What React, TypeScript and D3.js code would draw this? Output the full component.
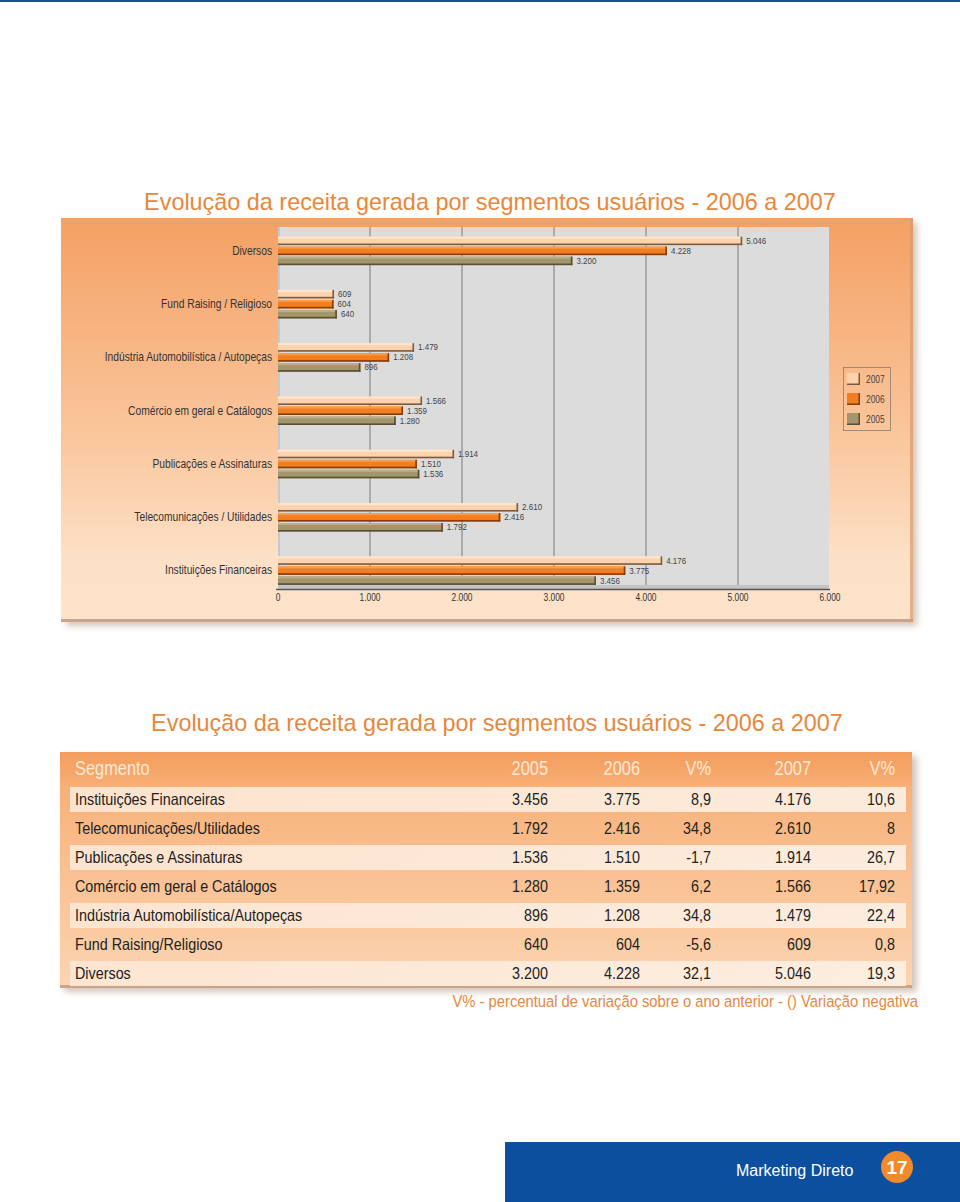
import React from "react";
import * as d3 from "d3";

const categories = [
  "Diversos",
  "Fund Raising / Religioso",
  "Indústria Automobilística / Autopeças",
  "Comércio em geral e Catálogos",
  "Publicações e Assinaturas",
  "Telecomunicações / Utilidades",
  "Instituições Financeiras",
];
const values2005 = [3200, 640, 896, 1280, 1536, 1792, 3456];
const values2006 = [4228, 604, 1208, 1359, 1510, 2416, 3775];
const values2007 = [5046, 609, 1479, 1566, 1914, 2610, 4176];
const axisTicks = [0, 1000, 2000, 3000, 4000, 5000, 6000];
const legendYears = ["2007", "2006", "2005"];

const tableSegments = [
  "Instituições Financeiras",
  "Telecomunicações/Utilidades",
  "Publicações e Assinaturas",
  "Comércio em geral e Catálogos",
  "Indústria Automobilística/Autopeças",
  "Fund Raising/Religioso",
  "Diversos",
];
const table2005 = [3456, 1792, 1536, 1280, 896, 640, 3200];
const table2006 = [3775, 2416, 1510, 1359, 1208, 604, 4228];
const tableV2006 = ["8,9", "34,8", "-1,7", "6,2", "34,8", "-5,6", "32,1"];
const table2007 = [4176, 2610, 1914, 1566, 1479, 609, 5046];
const tableV2007 = ["10,6", "8", "26,7", "17,92", "22,4", "0,8", "19,3"];
const tableHeaders = ["2005", "2006", "V%", "2007", "V%"];

const title = "Evolução da receita gerada por segmentos usuários - 2006 a 2007";
const footnote = "V% - percentual de variação sobre o ano anterior - () Variação negativa";

const locale = d3.formatLocale({ decimal: ",", thousands: ".", grouping: [3], currency: ["", ""] });
const fmt = locale.format(",d");

const SANS = "'Liberation Sans', Arial, sans-serif";

const seriesStyle = [
  { key: "2007", values: values2007, fill: "#fcd3ad", top: "#fee7d1", dark: "#7a5a40", off: -14 },
  { key: "2006", values: values2006, fill: "#f07f22", top: "#f99c4e", dark: "#8a3c08", off: -4 },
  { key: "2005", values: values2005, fill: "#a3956c", top: "#bbae88", dark: "#5a4f30", off: 6 },
];

function NText(props: {
  x: number;
  y: number;
  size: number;
  fill: string;
  anchor?: string;
  sx?: number;
  children: React.ReactNode;
}) {
  const sx = props.sx ?? 0.84;
  return (
    <text
      transform={`translate(${props.x},${props.y}) scale(${sx},1)`}
      textAnchor={props.anchor ?? "start"}
      fontFamily={SANS}
      fontSize={props.size}
      fill={props.fill}
    >
      {props.children}
    </text>
  );
}

export default function App() {
  const x = d3.scaleLinear().domain([0, 6000]).range([278, 830]);
  const y = d3.scaleBand<string>().domain(categories).range([224, 597]).padding(0);
  const bh = 8.5;

  const colX = [548, 640, 711, 811, 895];
  const rowY = d3.scaleBand<number>().domain(d3.range(tableSegments.length)).range([785, 988]);

  return (
    <svg width={960} height={1202} style={{ position: "absolute", left: 0, top: 0, background: "#fff" }}>
      <defs>
        <linearGradient id="panelGrad" x1="0" y1="0" x2="0" y2="1">
          <stop offset="0" stopColor="#f4a063" />
          <stop offset="0.55" stopColor="#fac79e" />
          <stop offset="0.85" stopColor="#fde1c7" />
          <stop offset="1" stopColor="#fde3ca" />
        </linearGradient>
        <linearGradient id="tableGrad" x1="0" y1="0" x2="0" y2="1">
          <stop offset="0" stopColor="#f6ab70" />
          <stop offset="1" stopColor="#fcd5b2" />
        </linearGradient>
        <linearGradient id="headGrad" x1="0" y1="0" x2="0" y2="1">
          <stop offset="0" stopColor="#f39d5c" />
          <stop offset="1" stopColor="#f7ae74" />
        </linearGradient>
        <linearGradient id="rowGrad" x1="0" y1="0" x2="1" y2="0">
          <stop offset="0" stopColor="#fde7d4" />
          <stop offset="1" stopColor="#fdf0e4" />
        </linearGradient>
        <filter id="shadow" x="-5%" y="-5%" width="115%" height="120%">
          <feGaussianBlur stdDeviation="3" />
        </filter>
      </defs>

      {/* top blue line */}
      <rect x={0} y={0} width={960} height={2} fill="#1d4f8e" />

      {/* title 1 */}
      <text x={490} y={210} textAnchor="middle" fontFamily={SANS} fontSize={23.4} fill="#e8873b">
        {title}
      </text>

      {/* chart panel */}
      <rect x={66} y={222} width={851} height={404} fill="#b8a08c" opacity={0.6} filter="url(#shadow)" />
      <rect x={61} y={218} width={852} height={404} fill="url(#panelGrad)" />
      <rect x={61} y={619} width={852} height={3} fill="#c9a488" />
      <rect x={910} y={218} width={3} height={404} fill="#d89a6c" opacity={0.7} />

      {/* plot area */}
      <rect x={278} y={227} width={551} height={362} fill="#dcdcdc" />
      <rect x={278} y={227} width={2} height={362} fill="#c8c8c8" />
      {axisTicks.slice(1, -1).map((t) => (
        <line key={t} x1={x(t)} x2={x(t)} y1={227} y2={589} stroke="#6e6e6e" strokeWidth={0.9} />
      ))}
      <rect x={278} y={585} width={551} height={4} fill="#c4c4c4" />
      <line x1={276} x2={830} y1={589.5} y2={589.5} stroke="#555" strokeWidth={1.6} />
      {axisTicks.map((t) => (
        <NText key={t} x={x(t)} y={601} anchor="middle" size={10} fill="#333">
          {fmt(t)}
        </NText>
      ))}

      {/* bars */}
      {categories.map((cat, i) => {
        const c = (y(cat) as number) + y.bandwidth() / 2;
        return (
          <g key={cat}>
            <NText x={272} y={c + 4} anchor="end" size={12.2} fill="#333">
              {cat}
            </NText>
            {seriesStyle.map((s) => {
              const x0 = x(0);
              const x1 = x(s.values[i]);
              const top = c + s.off;
              return (
                <g key={s.key}>
                  <rect x={x0} y={top} width={x1 - x0} height={bh} fill={s.fill} />
                  <rect x={x0} y={top} width={x1 - x0} height={2} fill={s.top} />
                  <rect x={x0} y={top + bh - 1.6} width={x1 - x0} height={1.6} fill={s.dark} />
                  <rect x={x1 - 1.6} y={top} width={1.6} height={bh} fill={s.dark} />
                  <NText x={x1 + 4} y={top + bh / 2 + 3} size={9.5} fill="#444">
                    {fmt(s.values[i])}
                  </NText>
                </g>
              );
            })}
          </g>
        );
      })}

      {/* legend */}
      <rect x={843.5} y={367.5} width={47} height={63} fill="none" stroke="#9a8373" strokeWidth={0.9} />
      {legendYears.map((yr, k) => {
        const s = seriesStyle.find((d) => d.key === yr)!;
        const ly = 373 + k * 20;
        return (
          <g key={yr}>
            <rect x={847} y={ly} width={13} height={12} fill={s.fill} />
            <rect x={858.5} y={ly} width={1.5} height={12} fill={s.dark} />
            <rect x={847} y={ly + 10.5} width={13} height={1.5} fill={s.dark} />
            <NText x={866} y={ly + 9.5} size={10} fill="#444">
              {yr}
            </NText>
          </g>
        );
      })}

      {/* title 2 */}
      <text x={497} y={731} textAnchor="middle" fontFamily={SANS} fontSize={23.4} fill="#e8873b">
        {title}
      </text>

      {/* table */}
      <rect x={64} y={756} width={853} height={236} fill="#b8a08c" opacity={0.6} filter="url(#shadow)" />
      <rect x={60} y={752} width={852} height={236} fill="url(#tableGrad)" />
      <rect x={60} y={752} width={852} height={33} fill="url(#headGrad)" />
      <rect x={60} y={985} width={852} height={3} fill="#c9a488" />
      <NText x={75} y={775} size={19.5} fill="#fde8d6">
        Segmento
      </NText>
      {tableHeaders.map((h, k) => (
        <NText key={k} x={colX[k]} y={775} anchor="end" size={19.5} fill="#fde8d6">
          {h}
        </NText>
      ))}
      {tableSegments.map((seg, r) => {
        const ry = rowY(r) as number;
        const bw = rowY.bandwidth();
        const cy = ry + bw / 2;
        const cells = [fmt(table2005[r]), fmt(table2006[r]), tableV2006[r], fmt(table2007[r]), tableV2007[r]];
        return (
          <g key={seg}>
            {r % 2 === 0 && <rect x={70} y={ry + 2} width={836} height={bw - 4} fill="url(#rowGrad)" opacity={0.92} />}
            <NText x={75} y={cy + 5.5} size={16.5} sx={0.87} fill="#222">
              {seg}
            </NText>
            {cells.map((v, k) => (
              <NText key={k} x={colX[k]} y={cy + 5.5} anchor="end" size={16.5} sx={0.87} fill="#222">
                {v}
              </NText>
            ))}
          </g>
        );
      })}
      <NText x={918} y={1007} anchor="end" size={16.5} sx={0.895} fill="#e8873b">
        {footnote}
      </NText>

      {/* footer */}
      <rect x={505} y={1142} width={455} height={60} fill="#0c4f9f" />
      <text x={736} y={1176} fontFamily={SANS} fontSize={16} fill="#fff">
        Marketing Direto
      </text>
      <circle cx={897} cy={1167} r={16} fill="#f08a2a" />
      <text x={897} y={1174} textAnchor="middle" fontFamily={SANS} fontWeight="bold" fontSize={19} fill="#fff">
        17
      </text>
    </svg>
  );
}
